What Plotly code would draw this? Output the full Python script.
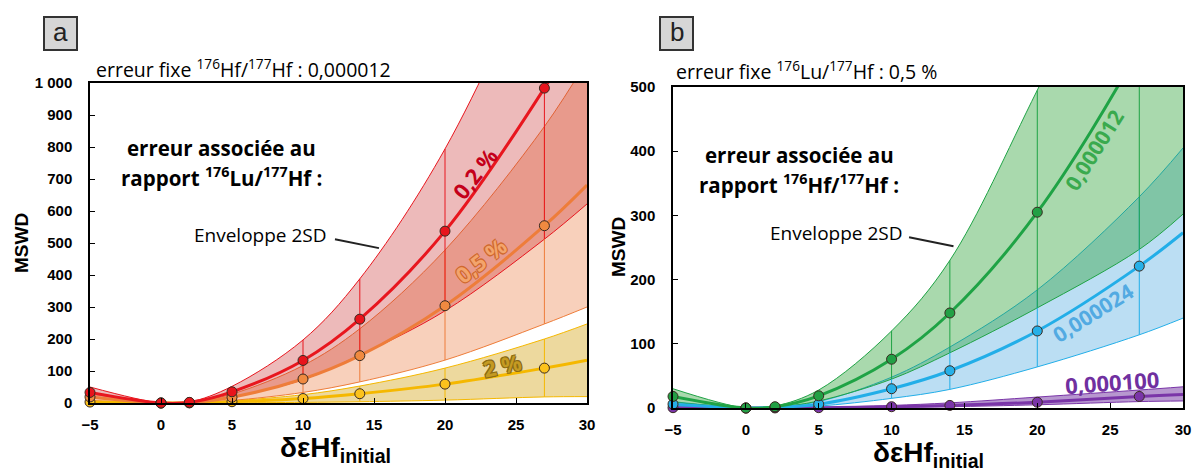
import plotly.graph_objects as go

# x positions (δεHf initial) and MSWD values
x_pts = [-5, 0, 2, 5, 10, 14, 20, 27, 30]
x_marks = [-5, 0, 2, 5, 10, 14, 20, 27]
x_bars = [10, 14, 20, 27]

# panel a: fixed 176Hf/177Hf error, varying 176Lu/177Hf error
red_mid = [33, 0, 2, 35, 133, 262, 537, 984, 1210]
red_hi = [50, 0, 3, 52, 197, 388, 794, 1450, 1790]
red_lo = [18, 0, 1, 19, 73, 150, 288, 512, 622]
org_mid = [19, 0, 1, 18, 75, 148, 304, 554, 681]
org_hi = [29, 0, 1.5, 28, 117, 232, 478, 864, 1070]
org_lo = [8, 0, 0.5, 8, 33, 66, 134, 247, 300]
yel_mid = [3, 0, 0.3, 4, 14, 29, 59, 109, 134]
yel_hi = [6, 0, 0.5, 7, 26, 53, 109, 200, 247]
yel_lo = [0.5, 0, 0, 0.6, 2, 4, 9, 19, 20]

# panel b: fixed 176Lu/177Hf error, varying 176Hf/177Hf error
grn_mid = [18, 0, 2, 19, 76, 148, 305, 560, 700]
grn_hi = [30, 0, 3, 28, 120, 230, 495, 820, 1000]
grn_lo = [9, 0, 1, 11, 45, 86, 156, 247, 302]
blu_mid = [6, 0, 1, 6, 30, 58, 120, 221, 273]
blu_hi = [10, 0, 1.5, 10, 48, 95, 184, 329, 405]
blu_lo = [3, 0, 0.5, 3, 15, 29, 64, 114, 140]
pur_mid = [0.5, 0, 0.1, 0.5, 2, 4, 9, 18, 21]
pur_hi = [1, 0, 0.2, 1, 4, 8, 17, 28, 33]
pur_lo = [0.2, 0, 0, 0.2, 1, 2, 5, 10, 11]

ticks_a = list(range(0, 1001, 100))
ticks_a_txt = [str(v) if v < 1000 else "1 000" for v in ticks_a]
ticks_b = list(range(0, 501, 100))
ticks_x = [-5, 0, 5, 10, 15, 20, 25, 30]

W, H = 1192, 471


def px(x):
    return x / W


def py(y):
    return 1 - y / H


series_a = [
    (yel_lo, yel_mid, yel_hi, "#f5b800", "rgba(215,170,40,0.45)", "#fcc21c"),
    (org_lo, org_mid, org_hi, "#ee7d3a", "rgba(235,120,60,0.35)", "#f08a40"),
    (red_lo, red_mid, red_hi, "#e8161e", "rgba(200,40,40,0.32)", "#e8141c"),
]
series_b = [
    (pur_lo, pur_mid, pur_hi, "#7a35a8", "rgba(112,48,160,0.5)", "#7a35a8"),
    (blu_lo, blu_mid, blu_hi, "#22aee8", "rgba(60,160,220,0.35)", "#26b0e8"),
    (grn_lo, grn_mid, grn_hi, "#1fa345", "rgba(40,160,50,0.4)", "#22a045"),
]

fig = go.Figure()


def add_panel(series, xa, ya):
    # envelopes
    for lo, mid, hi, lc, fc, mc in series:
        fig.add_trace(go.Scatter(x=x_pts, y=lo, mode="lines", xaxis=xa, yaxis=ya,
                                 line=dict(color=lc, width=1, shape="spline"),
                                 hoverinfo="skip"))
        fig.add_trace(go.Scatter(x=x_pts, y=hi, mode="lines", xaxis=xa, yaxis=ya,
                                 line=dict(color=lc, width=1, shape="spline"),
                                 fill="tonexty", fillcolor=fc, hoverinfo="skip"))
    # vertical 2SD bars
    for lo, mid, hi, lc, fc, mc in series:
        vx, vy = [], []
        for xb in x_bars:
            i = x_pts.index(xb)
            vx += [xb, xb, None]
            vy += [lo[i], hi[i], None]
        fig.add_trace(go.Scatter(x=vx, y=vy, mode="lines", xaxis=xa, yaxis=ya,
                                 line=dict(color=lc, width=1), hoverinfo="skip"))
    # central curves
    for lo, mid, hi, lc, fc, mc in series:
        fig.add_trace(go.Scatter(x=x_pts, y=mid, mode="lines", xaxis=xa, yaxis=ya,
                                 line=dict(color=lc, width=3, shape="spline")))
    # points
    for lo, mid, hi, lc, fc, mc in series:
        fig.add_trace(go.Scatter(x=x_marks, y=mid[:len(x_marks)], mode="markers",
                                 xaxis=xa, yaxis=ya, cliponaxis=False,
                                 marker=dict(size=10, color=mc,
                                             line=dict(color="#3a2a20", width=1))))


add_panel(series_a, "x", "y")
add_panel(series_b, "x2", "y2")

tickfont = dict(family="Liberation Sans", size=15, color="black", weight="bold")
axis_common = dict(showline=True, linecolor="black", linewidth=1.5, mirror=True,
                   ticks="inside", ticklen=5, tickcolor="black", showgrid=False,
                   zeroline=False, tickfont=tickfont, automargin=False)

fig.update_layout(
    width=W, height=H,
    margin=dict(l=0, r=0, t=0, b=0, pad=0),
    paper_bgcolor="white", plot_bgcolor="white",
    showlegend=False,
    xaxis=dict(domain=[px(90), px(587)], range=[-5, 30], tickvals=ticks_x,
               anchor="y", ticklabelstandoff=7, **axis_common),
    yaxis=dict(domain=[py(403), py(83)], range=[0, 1000], tickvals=ticks_a,
               ticktext=ticks_a_txt, anchor="x", ticklabelstandoff=13, **axis_common),
    xaxis2=dict(domain=[px(673), px(1183)], range=[-5, 30], tickvals=ticks_x,
                anchor="y2", ticklabelstandoff=7, **axis_common),
    yaxis2=dict(domain=[py(408), py(87)], range=[0, 500], tickvals=ticks_b,
                anchor="x2", ticklabelstandoff=13, **axis_common),
)

txt_font = dict(family="Open Sans", color="black")
bold_font = dict(family="Open Sans", color="black", size=20.5, weight="bold")
annots = []
shapes = []


def note(x, y, text, font, xref="paper", yref="paper", xanchor="center", angle=0):
    annots.append(dict(xref=xref, yref=yref, x=x, y=y, text=text, showarrow=False,
                       xanchor=xanchor, yanchor="middle", textangle=angle, font=font))


# panel letters
for letter, x0 in (("a", 44), ("b", 660)):
    shapes.append(dict(type="rect", xref="paper", yref="paper",
                       x0=px(x0), x1=px(x0 + 33), y0=py(50), y1=py(17),
                       fillcolor="#d6d6d6", line=dict(color="#333", width=2)))
    note(px(x0 + 16.5), py(32), letter,
         dict(family="Liberation Sans", size=26, color="#222"))

note(px(94), py(69), "erreur fixe <sup>176</sup>Hf/<sup>177</sup>Hf : 0,000012",
     dict(size=19.5, **txt_font), xanchor="left")
note(px(674), py(71), "erreur fixe <sup>176</sup>Lu/<sup>177</sup>Hf : 0,5 %",
     dict(size=19.5, **txt_font), xanchor="left")
note(px(221), py(148), "erreur associée au", bold_font)
note(px(221), py(177), "rapport <sup>176</sup>Lu/<sup>177</sup>Hf :", bold_font)
note(px(799), py(155), "erreur associée au", bold_font)
note(px(799), py(184), "rapport <sup>176</sup>Hf/<sup>177</sup>Hf :", bold_font)
mswd_font = dict(family="Liberation Sans", size=19, color="black")
note(px(21), py(243), "<b>MSWD</b>", mswd_font, angle=-90)
note(px(618), py(247), "<b>MSWD</b>", mswd_font, angle=-90)
xt_font = dict(family="Liberation Sans", size=28, color="black")
note(px(335), py(449), "<b>δεHf<sub>initial</sub></b>", xt_font)
note(px(928), py(454), "<b>δεHf<sub>initial</sub></b>", xt_font)

# envelope callouts
note(7.0, 525, "Enveloppe 2SD", dict(size=19, **txt_font), xref="x", yref="y")
note(6.2, 273, "Enveloppe 2SD", dict(size=19, **txt_font), xref="x2", yref="y2")


# curve labels
def lab_font(col, size=22, edge=None):
    f = dict(family="Open Sans", size=size, color=col, weight="bold")
    if edge:
        f["shadow"] = (f"-1px -1px 0 {edge}, 1px -1px 0 {edge}, "
                       f"-1px 1px 0 {edge}, 1px 1px 0 {edge}")
    return f


note(22.1, 719, "0,2 %", lab_font("#c4001a"), xref="x", yref="y", angle=-52)
note(22.5, 447, "0,5 %", lab_font("#f3a46c", edge="#d0692e"), xref="x", yref="y",
     angle=-38)
note(24.0, 119, "2 %", lab_font("#c49a22", edge="#8a6a14"), xref="x", yref="y",
     angle=-12)
note(23.9, 402, "0,000012", lab_font("#3aaa4e", 21), xref="x2", yref="y2", angle=-58)
note(23.8, 148, "0,000024", lab_font("#52aae2", 21), xref="x2", yref="y2", angle=-32)
note(25.1, 40, "0,000100", lab_font("#7030a0"), xref="x2", yref="y2", angle=-4)

shapes += [
    dict(type="line", xref="x", yref="y", x0=12.25, y0=512, x1=15.35, y1=484,
         line=dict(color="#222", width=2)),
    dict(type="line", xref="x2", yref="y2", x0=11.2, y0=266, x1=14.25, y1=252,
         line=dict(color="#222", width=2)),
]

fig.update_layout(annotations=annots, shapes=shapes)
fig.write_html("out.html", config={"displayModeBar": False},
               post_script="document.body.style.margin='0px';")
